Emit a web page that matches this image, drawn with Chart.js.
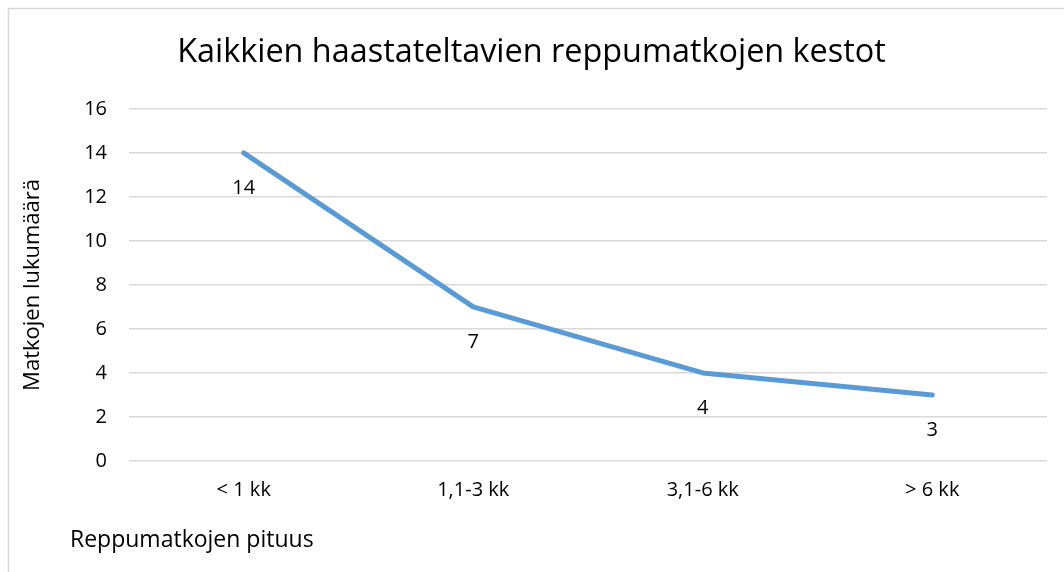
<!DOCTYPE html>
<html>
<head>
<meta charset="utf-8">
<script src="https://cdn.jsdelivr.net/npm/chart.js@4"></script>
<style>
  body { margin: 0; background: #fff; }
  #wrap { width: 1064px; height: 572px; }
</style>
</head>
<body>
<div id="wrap"><canvas id="chart" width="1064" height="572"></canvas></div>
<script>
const categories = ['< 1 kk', '1,1-3 kk', '3,1-6 kk', '> 6 kk'];
const tripCounts = [14, 7, 4, 3];
const yTicks = [0, 2, 4, 6, 8, 10, 12, 14, 16];
const chartTitle = 'Kaikkien haastateltavien reppumatkojen kestot';
const yTitle = 'Matkojen lukumäärä';
const xTitle = 'Reppumatkojen pituus';

const FONT = '"Open Sans", Lato, sans-serif';

// light frame round the chart (only top and left edges are in view)
const framePlugin = {
  id: 'frame',
  beforeDraw(chart) {
    const ctx = chart.ctx;
    ctx.save();
    ctx.fillStyle = '#ffffff';
    ctx.fillRect(0, 0, chart.width, chart.height);
    ctx.strokeStyle = '#d9d9d9';
    ctx.lineWidth = 1.5;
    ctx.strokeRect(8.5, 8.5, chart.width + 50, chart.height + 50);
    ctx.restore();
  }
};

// value labels under each point, plus the left-aligned x axis caption
const labelPlugin = {
  id: 'valueLabels',
  afterDatasetsDraw(chart) {
    const ctx = chart.ctx;
    const meta = chart.getDatasetMeta(0);
    ctx.save();
    ctx.font = '20px ' + FONT;
    ctx.fillStyle = '#000';
    ctx.textAlign = 'center';
    ctx.textBaseline = 'middle';
    meta.data.forEach((pt, i) => {
      ctx.fillText(String(tripCounts[i]), pt.x, pt.y + 35);
    });
    ctx.font = '23px ' + FONT;
    ctx.textAlign = 'left';
    ctx.fillText(xTitle, 70, 540);
    ctx.restore();
  }
};

new Chart(document.getElementById('chart'), {
  type: 'line',
  data: {
    labels: categories,
    datasets: [{
      data: tripCounts,
      borderColor: '#5b9bd5',
      borderWidth: 5,
      borderCapStyle: 'round',
      borderJoinStyle: 'round',
      pointRadius: 0,
      tension: 0,
      fill: false
    }]
  },
  options: {
    responsive: false,
    animation: false,
    layout: { padding: { left: 16, right: 17, top: 8, bottom: 0 } },
    plugins: {
      legend: { display: false },
      tooltip: { enabled: false },
      title: {
        display: true,
        text: chartTitle,
        color: '#000',
        font: { family: FONT, size: 32.4, weight: 'normal' },
        padding: { top: 25, bottom: 37 }
      }
    },
    scales: {
      x: {
        offset: true,
        grid: { display: false, drawTicks: false },
        border: { display: false },
        ticks: { color: '#000', font: { family: FONT, size: 20 }, padding: 17 },
        afterFit(s) { s.height = 111; }
      },
      y: {
        min: 0,
        max: 16,
        afterBuildTicks(s) { s.ticks = yTicks.map(v => ({ value: v })); },
        grid: { color: '#d9d9d9', lineWidth: 1.5, drawTicks: false },
        border: { display: false },
        ticks: { color: '#000', font: { family: FONT, size: 20 }, padding: 22 },
        title: {
          display: true,
          text: yTitle,
          color: '#000',
          font: { family: FONT, size: 22 },
          padding: { top: 4, bottom: 4 }
        },
        afterFit(s) { s.width = 113; }
      }
    }
  },
  plugins: [framePlugin, labelPlugin]
});
</script>
</body>
</html>
